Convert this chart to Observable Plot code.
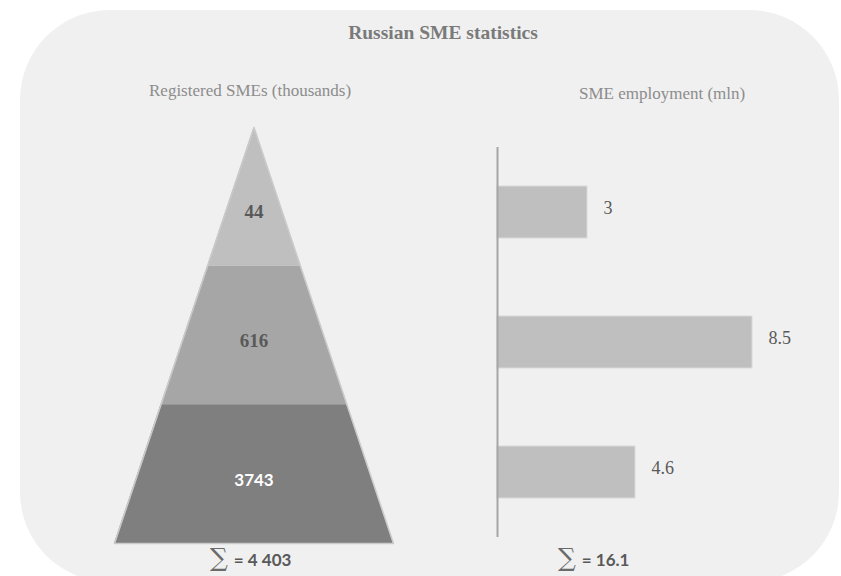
<!DOCTYPE html>
<html>
<head>
<meta charset="utf-8">
<script src="https://cdn.jsdelivr.net/npm/d3@7"></script>
<script src="https://cdn.jsdelivr.net/npm/@observablehq/plot@0.6"></script>
<style>
  html, body { margin: 0; padding: 0; background: #ffffff; }
  #wrap { position: relative; width: 841px; height: 576px; overflow: hidden; }
  #bg { position: absolute; left: 20px; top: 10px; width: 819px; height: 572px; background: #f0f0f0; border-radius: 90px; }
  .layer { position: absolute; left: 0; top: 0; }
  .txt { position: absolute; white-space: nowrap; font-family: "Liberation Serif", serif; line-height: 1.15; }
  #title { left: 0; width: 886px; top: 22px; text-align: center; font-weight: bold; font-size: 19.5px; color: #7a7a7a; }
  #sub1 { left: 149px; top: 81px; font-size: 17px; color: #8c8c8c; }
  #sub2 { left: 579px; top: 84px; font-size: 17px; color: #8c8c8c; }
  .sum { position: absolute; white-space: nowrap; color: #595959; display: flex; align-items: baseline; line-height: 1; }
  .sig { font-family: "DejaVu Serif", serif; font-size: 25px; font-weight: normal; color: #6a6a6a; }
  .eq { font-family: Lato, sans-serif; font-size: 17px; font-weight: bold; margin-left: 6px; }
</style>
</head>
<body>
<div id="wrap">
  <div id="bg"></div>
  <div id="title" class="txt">Russian SME statistics</div>
  <div id="sub1" class="txt">Registered SMEs (thousands)</div>
  <div id="sub2" class="txt">SME employment (mln)</div>
  <div id="sum1" class="sum" style="left:210px; top:545px;"><span class="sig">∑</span><span class="eq">= 4 403</span></div>
  <div id="sum2" class="sum" style="left:558px; top:545px;"><span class="sig">∑</span><span class="eq">= 16.1</span></div>
</div>
<script>
// ---- data ----
const categories = ["Medium", "Small", "Micro"];          // top to bottom
const registered = [44, 616, 3743];                        // thousands
const employment = [3, 8.5, 4.6];                          // mln
const bandColors = ["#bfbfbf", "#a6a6a6", "#7f7f7f"];
const labelColors = ["#595959", "#595959", "#ffffff"];
const labelFonts = ["'Liberation Serif', serif", "'Liberation Serif', serif", "Lato, sans-serif"];
const labelSizes = [19, 19, 17];
const labelDy = [15, 5, 6];

// pyramid: equal-height bands, level 0 = base, level 3 = apex
const nLevels = categories.length;
const half = lvl => (nLevels - lvl) / nLevels;
const pyramid = [];
categories.forEach((c, i) => {
  const lb = nLevels - 1 - i, lt = nLevels - i;
  pyramid.push({band: c, y: lb, x1: -half(lb), x2: half(lb)});
  pyramid.push({band: c, y: lt, x1: -half(lt), x2: half(lt)});
});
const outline = [
  {x: -half(0), y: 0}, {x: 0, y: nLevels}, {x: half(0), y: 0}, {x: -half(0), y: 0}
];
const pyrLabels = categories.map((c, i) => ({band: c, value: registered[i], y: nLevels - 1 - i + 0.5}));

const left = Plot.plot({
  width: 841, height: 576,
  marginLeft: 114, marginRight: 448, marginTop: 127, marginBottom: 33,
  style: {background: "transparent", overflow: "visible"},
  x: {domain: [-1, 1], axis: null},
  y: {domain: [0, nLevels], axis: null},
  color: {domain: categories, range: bandColors},
  marks: [
    Plot.areaX(pyramid, {y: "y", x1: "x1", x2: "x2", z: "band", fill: "band"}),
    Plot.line(outline, {x: "x", y: "y", stroke: "#cacaca", strokeWidth: 1.5}),
    ...categories.map((c, i) => Plot.text([pyrLabels[i]], {
      x: 0, y: "y", text: d => String(d.value), dy: labelDy[i],
      fill: labelColors[i], fontFamily: labelFonts[i], fontWeight: "bold", fontSize: labelSizes[i]
    }))
  ]
});
left.classList.add("layer");
d3.select(left).selectAll('g[aria-label="text"]').each(function(_, i) {
  d3.select(this).selectAll("text").style("font-family", labelFonts[i]);
});

const bars = categories.map((c, i) => ({cat: c, value: employment[i]}));
const right = Plot.plot({
  width: 841, height: 576,
  marginLeft: 497, marginRight: 44, marginTop: 147, marginBottom: 39,
  style: {background: "transparent", overflow: "visible"},
  x: {domain: [0, 10], axis: null},
  y: {domain: categories, axis: null, paddingInner: 0.6, paddingOuter: 0.3},
  marks: [
    Plot.barX(bars, {x: "value", y: "cat", fill: "#bfbfbf", stroke: "#d9d9d9", strokeWidth: 1}),
    Plot.ruleX([0], {stroke: "#a6a6a6", strokeWidth: 2}),
    Plot.text(bars, {x: "value", y: "cat", text: d => String(d.value), dx: 16, dy: -4, textAnchor: "start",
      fill: "#595959", fontFamily: "'Liberation Serif', serif", fontSize: 18})
  ]
});
right.classList.add("layer");
d3.select(right).selectAll('g[aria-label="text"] text').style("font-family", "'Liberation Serif', serif");

const wrap = document.getElementById("wrap");
wrap.insertBefore(left, document.getElementById("title"));
wrap.insertBefore(right, document.getElementById("title"));
</script>
</body>
</html>
